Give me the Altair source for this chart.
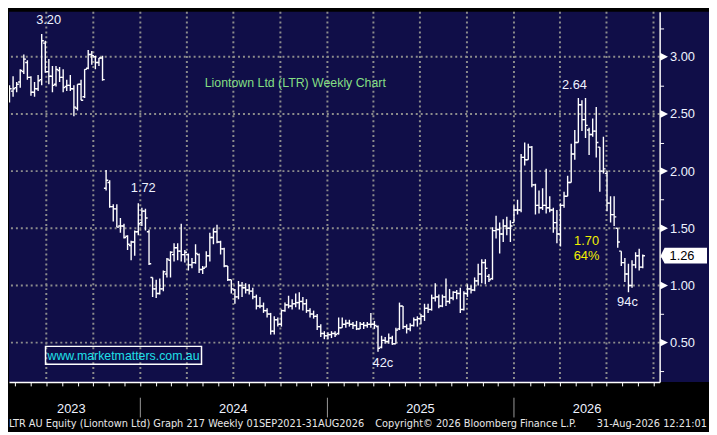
import altair as alt
import pandas as pd

NAVY = "#100e48"
GRID = "#8c8c8c"
TXT = "#eef2ff"
FONT = "Liberation Sans"
NARROW = "DejaVu Sans Condensed"

# ---------------- data ----------------
bar_dates = pd.date_range(end="2026-09-10", periods=180, freq="7D")

opens = [
    2.60, 2.57, 2.62, 2.70, 2.73, 2.78, 2.87, 2.95, 2.82, 2.69,
    2.72, 2.80, 3.12, 2.87, 2.83, 2.76, 2.88, 2.82, 2.74, 2.75,
    2.72, 2.55, 2.76, 2.65, 2.90, 3.02, 3.00, 2.95, 2.99, 1.85,
    1.90, 1.69, 1.67, 1.52, 1.52, 1.43, 1.35, 1.38, 1.47, 1.55,
    1.65, 1.47, 1.07, 0.97, 0.93, 0.97, 1.10, 1.22, 1.27, 1.33,
    1.30, 1.27, 1.27, 1.18, 1.20, 1.27, 1.14, 1.16, 1.26, 1.42,
    1.47, 1.38, 1.32, 1.17, 1.05, 0.96, 0.90, 1.00, 0.98, 0.96,
    0.95, 0.90, 0.82, 0.82, 0.78, 0.75, 0.60, 0.70, 0.66, 0.78,
    0.83, 0.82, 0.84, 0.85, 0.86, 0.84, 0.78, 0.75, 0.73, 0.64,
    0.58, 0.56, 0.57, 0.58, 0.58, 0.63, 0.66, 0.67, 0.66, 0.65,
    0.62, 0.66, 0.65, 0.66, 0.66, 0.64, 0.46, 0.52, 0.51, 0.54,
    0.49, 0.62, 0.82, 0.64, 0.62, 0.65, 0.70, 0.71, 0.73, 0.80,
    0.79, 0.89, 0.90, 0.82, 0.90, 0.86, 0.89, 0.94, 0.93, 0.79,
    0.93, 0.97, 0.96, 1.04, 1.10, 1.20, 1.08, 1.06, 1.48, 1.49,
    1.45, 1.52, 1.50, 1.55, 1.66, 1.66, 2.12, 2.10, 2.21, 1.88,
    1.70, 1.68, 1.70, 1.68, 1.66, 1.55, 1.45, 1.70, 1.78, 1.90,
    2.15, 2.25, 2.58, 2.45, 2.36, 2.32, 2.35, 2.21, 2.00, 1.98,
    1.72, 1.62, 1.50, 1.30, 1.20, 1.10, 1.00, 1.18, 1.26, 1.16,
]
highs = [
    2.67, 2.67, 2.75, 2.83, 2.78, 2.89, 3.02, 2.97, 2.83, 2.78,
    2.84, 3.20, 3.14, 2.98, 2.92, 2.92, 2.91, 2.89, 2.80, 2.84,
    2.75, 2.76, 2.80, 2.89, 3.06, 3.05, 3.01, 2.99, 3.01, 2.01,
    1.92, 1.71, 1.71, 1.59, 1.54, 1.44, 1.39, 1.48, 1.72, 1.68,
    1.67, 1.49, 1.07, 1.05, 1.06, 1.13, 1.24, 1.30, 1.37, 1.37,
    1.54, 1.31, 1.28, 1.24, 1.36, 1.28, 1.17, 1.30, 1.46, 1.50,
    1.53, 1.39, 1.33, 1.17, 1.05, 0.97, 1.04, 1.03, 1.02, 1.01,
    0.98, 0.92, 0.90, 0.85, 0.80, 0.76, 0.73, 0.72, 0.79, 0.85,
    0.91, 0.88, 0.93, 0.94, 0.90, 0.88, 0.80, 0.78, 0.75, 0.66,
    0.60, 0.59, 0.60, 0.60, 0.72, 0.72, 0.70, 0.70, 0.68, 0.69,
    0.68, 0.68, 0.68, 0.76, 0.69, 0.65, 0.56, 0.55, 0.58, 0.56,
    0.63, 0.85, 0.82, 0.66, 0.67, 0.72, 0.73, 0.75, 0.84, 0.84,
    0.92, 1.02, 0.92, 0.92, 1.06, 0.97, 0.95, 0.96, 0.98, 0.95,
    1.01, 1.00, 1.07, 1.19, 1.23, 1.23, 1.10, 1.51, 1.61, 1.55,
    1.58, 1.60, 1.57, 1.70, 1.75, 2.15, 2.25, 2.24, 2.22, 1.89,
    1.83, 1.85, 2.02, 1.78, 1.68, 1.66, 1.72, 1.82, 1.96, 2.24,
    2.36, 2.64, 2.62, 2.64, 2.38, 2.46, 2.56, 2.21, 2.30, 2.00,
    1.78, 1.78, 1.50, 1.30, 1.24, 1.19, 1.22, 1.29, 1.32, 1.27,
]
lows = [
    2.56, 2.56, 2.60, 2.65, 2.69, 2.73, 2.85, 2.80, 2.66, 2.65,
    2.70, 2.75, 2.86, 2.76, 2.69, 2.74, 2.78, 2.69, 2.70, 2.70,
    2.48, 2.53, 2.62, 2.64, 2.89, 2.93, 2.89, 2.92, 2.79, 1.83,
    1.68, 1.56, 1.51, 1.46, 1.41, 1.31, 1.22, 1.26, 1.44, 1.52,
    1.48, 1.18, 0.90, 0.89, 0.92, 0.95, 1.07, 1.07, 1.21, 1.22,
    1.21, 1.20, 1.13, 1.15, 1.19, 1.11, 1.10, 1.16, 1.21, 1.36,
    1.37, 1.27, 1.16, 1.04, 0.93, 0.84, 0.88, 0.90, 0.93, 0.92,
    0.88, 0.79, 0.80, 0.76, 0.72, 0.57, 0.57, 0.64, 0.64, 0.77,
    0.80, 0.79, 0.81, 0.79, 0.78, 0.76, 0.72, 0.71, 0.61, 0.55,
    0.53, 0.53, 0.54, 0.55, 0.57, 0.63, 0.63, 0.64, 0.62, 0.61,
    0.62, 0.62, 0.63, 0.63, 0.62, 0.42, 0.45, 0.49, 0.49, 0.48,
    0.49, 0.61, 0.62, 0.58, 0.60, 0.64, 0.64, 0.66, 0.69, 0.76,
    0.78, 0.86, 0.80, 0.81, 0.82, 0.84, 0.87, 0.88, 0.76, 0.78,
    0.90, 0.93, 0.95, 1.00, 1.02, 1.01, 1.03, 1.05, 1.41, 1.28,
    1.38, 1.44, 1.38, 1.55, 1.62, 1.64, 2.05, 2.10, 1.86, 1.62,
    1.63, 1.66, 1.63, 1.64, 1.46, 1.37, 1.34, 1.68, 1.78, 1.90,
    2.10, 2.25, 2.35, 2.29, 2.14, 2.30, 2.12, 1.82, 1.98, 1.65,
    1.55, 1.52, 1.33, 1.17, 1.03, 0.94, 0.98, 1.15, 1.13, 1.15,
]
closes = [
    2.57, 2.60, 2.72, 2.72, 2.76, 2.88, 2.98, 2.82, 2.69, 2.72,
    2.79, 3.14, 2.87, 2.83, 2.75, 2.89, 2.82, 2.73, 2.75, 2.72,
    2.56, 2.76, 2.62, 2.89, 3.02, 3.01, 2.95, 2.99, 2.80, 1.92,
    1.69, 1.67, 1.51, 1.52, 1.42, 1.36, 1.38, 1.47, 1.54, 1.65,
    1.59, 1.19, 0.97, 0.93, 0.97, 1.12, 1.23, 1.29, 1.33, 1.30,
    1.27, 1.29, 1.18, 1.20, 1.28, 1.14, 1.15, 1.26, 1.42, 1.47,
    1.38, 1.32, 1.17, 1.05, 0.97, 0.90, 1.00, 0.98, 0.96, 0.95,
    0.90, 0.82, 0.82, 0.78, 0.75, 0.60, 0.70, 0.66, 0.78, 0.83,
    0.82, 0.84, 0.85, 0.86, 0.84, 0.78, 0.75, 0.73, 0.64, 0.58,
    0.56, 0.57, 0.58, 0.57, 0.63, 0.66, 0.67, 0.66, 0.65, 0.62,
    0.66, 0.65, 0.66, 0.66, 0.65, 0.45, 0.52, 0.51, 0.54, 0.49,
    0.61, 0.82, 0.64, 0.62, 0.65, 0.70, 0.71, 0.73, 0.80, 0.79,
    0.89, 0.90, 0.82, 0.90, 0.86, 0.89, 0.94, 0.93, 0.79, 0.93,
    0.97, 0.96, 1.04, 1.10, 1.20, 1.15, 1.05, 1.48, 1.49, 1.45,
    1.52, 1.50, 1.52, 1.66, 1.66, 2.12, 2.10, 2.21, 1.88, 1.70,
    1.68, 1.70, 1.68, 1.66, 1.55, 1.45, 1.70, 1.78, 1.90, 2.15,
    2.25, 2.58, 2.45, 2.40, 2.32, 2.35, 2.25, 2.00, 2.02, 1.72,
    1.62, 1.60, 1.38, 1.20, 1.10, 1.00, 1.18, 1.26, 1.16, 1.26,
]

price_gridlines = [0.5, 1.0, 1.5, 2.0, 2.5, 3.0]
axis_tick_values = [0.25, 0.5, 0.75, 1.0, 1.25, 1.5, 1.75, 2.0, 2.25, 2.5, 2.75, 3.0, 3.25]
quarter_lines = ["2023-07-01", "2023-10-01", "2024-01-01", "2024-04-01", "2024-07-01",
                 "2024-10-01", "2025-01-01", "2025-04-01", "2025-07-01", "2025-10-01",
                 "2026-01-01", "2026-04-01", "2026-07-01", "2026-10-01"]
year_starts = ["2024-01-01", "2025-01-01", "2026-01-01"]
year_labels = ["2023", "2024", "2025", "2026"]
year_label_dates = ["2023-08-19", "2024-07-01", "2025-07-02", "2026-05-24"]

annot_labels = ["3.20", "1.72", "42c", "2.64", "94c"]
annot_bar_index = [11, 38, 105, 161, 175]
annot_values = [3.20, 1.72, 0.42, 2.64, 0.94]

chart_title = "Liontown Ltd (LTR) Weekly Chart"
website = "www.marketmatters.com.au"
move_labels = ["1.70", "64%"]
footer_left = "LTR AU Equity (Liontown Ltd) Graph 217 Weekly 01SEP2021-31AUG2026"
footer_mid = "Copyright\u00a9 2026 Bloomberg Finance L.P."
footer_right = "31-Aug-2026 12:21:01"
last_price = closes[-1]

# ---------------- scales / axes ----------------
W, H = 659, 375
x_scale = alt.Scale(domain=[alt.DateTime(year=2023, month=4, date=19),
                            alt.DateTime(year=2026, month=10, date=13)], nice=False)
y_scale = alt.Scale(domain=[0.1563, 3.3946], nice=False, zero=False)

x_axis = alt.Axis(orient="bottom", labels=False, grid=False, domainColor="white",
                  domainWidth=1.5, tickColor="white", tickWidth=1, tickSize=4,
                  tickCount={"interval": "month", "step": 1}, zindex=2, title=None)
y_axis = alt.Axis(orient="right", values=axis_tick_values,
                  labelExpr="datum.value % 0.5 == 0 ? format(datum.value, '.2f') : ''",
                  labelColor=TXT, labelFont=FONT, labelFontSize=13, labelPadding=6,
                  labelOverlap=False, tickColor="white", tickSize=4, tickWidth=1,
                  domainColor="white", domainWidth=1.5, grid=False, zindex=2, title=None)


def X(field="date"):
    return alt.X(f"{field}:T", scale=x_scale, axis=x_axis, title=None)


def Y(field):
    return alt.Y(f"{field}:Q", scale=y_scale, axis=y_axis, title=None)


one = pd.DataFrame({"k": [0]})
df = pd.DataFrame({"date": bar_dates, "open": opens, "high": highs,
                   "low": lows, "close": closes})

layers = []

# navy panel behind the right-hand axis
layers.append(alt.Chart(one).mark_rect(color=NAVY).encode(
    x=alt.value(W), x2=alt.value(W + 50), y=alt.value(0), y2=alt.value(H)))

# dotted grid
layers.append(alt.Chart(pd.DataFrame({"price": price_gridlines})).mark_rule(
    color=GRID, strokeWidth=2, strokeDash=[2, 3]).encode(y=Y("price")))
layers.append(alt.Chart(pd.DataFrame({"date": pd.to_datetime(quarter_lines)})).mark_rule(
    color=GRID, strokeWidth=2, strokeDash=[2, 3]).encode(x=X()))

# OHLC bars
BW = 1.4
layers.append(alt.Chart(df).mark_rule(color="white", strokeWidth=BW, clip=True).encode(
    x=X(), y=Y("low"), y2=alt.Y2("high:Q")))
layers.append(alt.Chart(df).mark_rule(color="white", strokeWidth=BW, clip=True,
                                      xOffset=-2.2, x2Offset=0).encode(
    x=X(), x2=alt.X2("date:T"), y=Y("open")))
layers.append(alt.Chart(df).mark_rule(color="white", strokeWidth=BW, clip=True,
                                      xOffset=0, x2Offset=2.2).encode(
    x=X(), x2=alt.X2("date:T"), y=Y("close")))

# price annotations
offsets = {"3.20": (7, -14.5), "1.72": (5, -15), "42c": (5, 11.5),
           "2.64": (-4, -13.4), "94c": (-1, 10)}
for lab, idx, val in zip(annot_labels, annot_bar_index, annot_values):
    dx, dy = offsets[lab]
    layers.append(alt.Chart(pd.DataFrame({"date": [bar_dates[idx]], "price": [val],
                                          "label": [lab]})).mark_text(
        dx=dx, dy=dy, align="center", baseline="middle", font=FONT, fontSize=13,
        color=TXT).encode(x=X(), y=Y("price"), text="label:N"))

# chart title
layers.append(alt.Chart(pd.DataFrame({"t": [chart_title]})).mark_text(
    align="center", baseline="middle", font=FONT, fontSize=12.5, color="#84df84").encode(
    x=alt.value(290), y=alt.value(72), text="t:N"))

# move annotation
for lab, yy in zip(move_labels, [232, 248]):
    layers.append(alt.Chart(pd.DataFrame({"t": [lab]})).mark_text(
        align="center", baseline="middle", font=FONT, fontSize=13, color="#f0f000").encode(
        x=alt.value(585), y=alt.value(yy), text="t:N"))

# website box
layers.append(alt.Chart(one).mark_rect(fillOpacity=0, stroke="white", strokeWidth=1.5).encode(
    x=alt.value(37), x2=alt.value(195), y=alt.value(339), y2=alt.value(357)))
layers.append(alt.Chart(pd.DataFrame({"t": [website]})).mark_text(
    align="left", baseline="middle", font=FONT, fontSize=12.5, color="#1fe0e8").encode(
    x=alt.value(39), y=alt.value(348.5), text="t:N"))

# axis label arrows
layers.append(alt.Chart(pd.DataFrame({"price": price_gridlines})).mark_point(
    shape="M -1 -1 L 1 0 L -1 1 Z", filled=True, size=64, color="white", opacity=1).encode(
    x=alt.value(W + 4.5), y=Y("price")))

# last price tag
tag = pd.DataFrame({"price": [last_price], "label": [f"{last_price:.2f}"]})
layers.append(alt.Chart(tag).mark_point(
    shape="M -1 0 L -0.83 -0.34 L 1 -0.34 L 1 0.34 L -0.83 0.34 Z", filled=True,
    size=2209, color="white", opacity=1, strokeWidth=0).encode(
    x=alt.value(W + 24.5), y=Y("price")))
layers.append(alt.Chart(tag).mark_text(
    align="left", baseline="middle", font=FONT, fontSize=13, color="black").encode(
    x=alt.value(W + 10), y=Y("price"), text="label:N"))

# year separators and labels below the axis
layers.append(alt.Chart(pd.DataFrame({"date": pd.to_datetime(year_starts)})).mark_rule(
    color="#9a9a9a", strokeWidth=1).encode(x=X(), y=alt.value(H + 16), y2=alt.value(H + 36)))
layers.append(alt.Chart(pd.DataFrame({"date": pd.to_datetime(year_label_dates),
                                      "label": year_labels})).mark_text(
    align="center", baseline="middle", font=FONT, fontSize=13, color=TXT).encode(
    x=X(), y=alt.value(H + 27), text="label:N"))

# footer
FS = 11
layers.append(alt.Chart(pd.DataFrame({"t": [footer_left]})).mark_text(
    align="left", baseline="middle", font=NARROW, fontSize=FS, color="#e8e8e8").encode(
    x=alt.value(0), y=alt.value(H + 43), text="t:N"))
layers.append(alt.Chart(pd.DataFrame({"t": [footer_mid]})).mark_text(
    align="left", baseline="middle", font=NARROW, fontSize=FS, color="#e8e8e8").encode(
    x=alt.value(371), y=alt.value(H + 43), text="t:N"))
layers.append(alt.Chart(pd.DataFrame({"t": [footer_right]})).mark_text(
    align="right", baseline="middle", font=NARROW, fontSize=FS, color="#e8e8e8").encode(
    x=alt.value(707), y=alt.value(H + 43), text="t:N"))

chart = alt.layer(*layers).properties(
    width=W, height=H, padding=0, background="#000000"
).configure_view(fill=NAVY, strokeWidth=0)

chart.save("out.html", embed_options={"renderer": "svg", "actions": False})
